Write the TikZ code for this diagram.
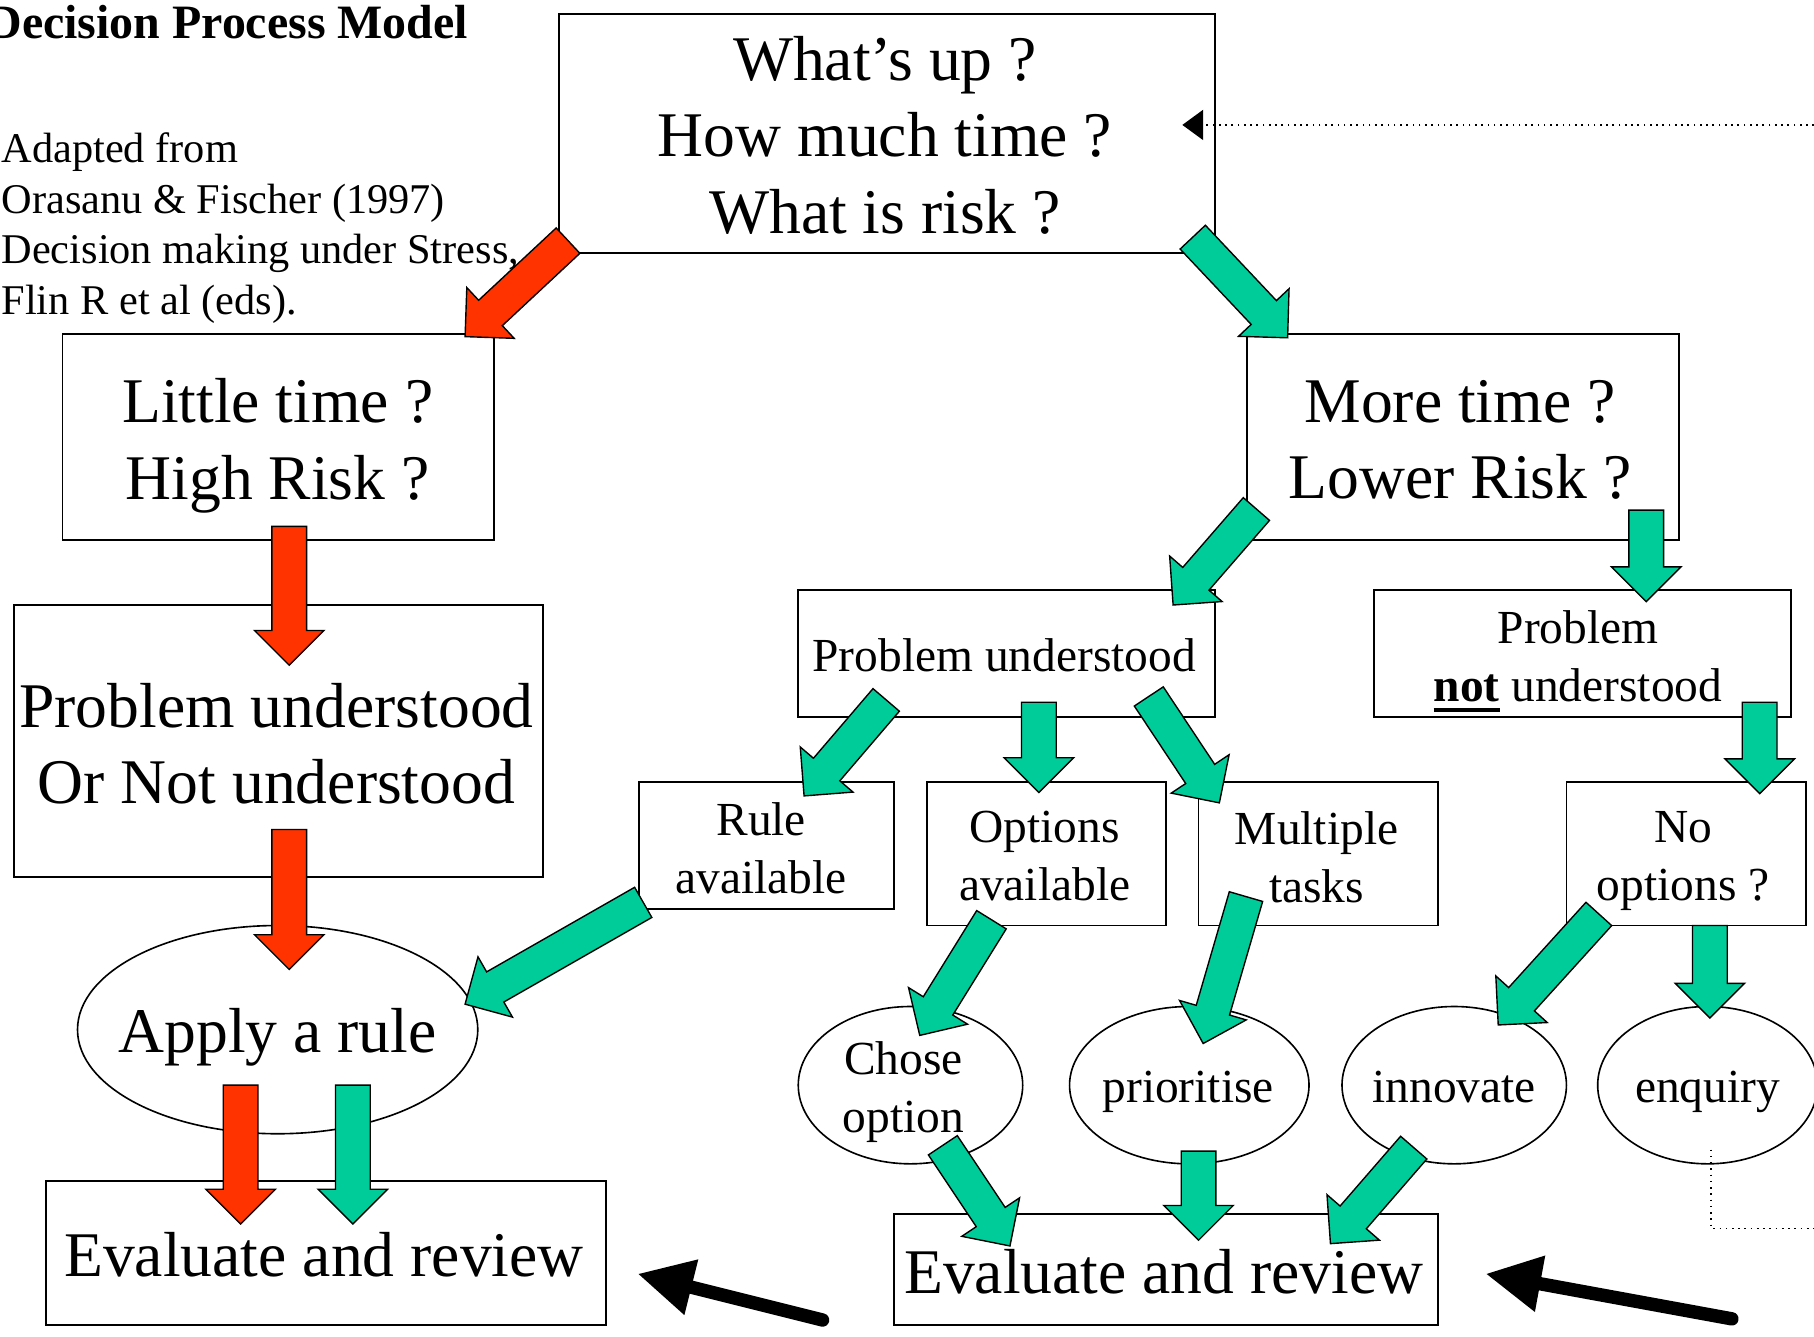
\documentclass[tikz,border=0pt]{standalone}
\usepackage{fontspec}
\setmainfont{Liberation Serif}
\usetikzlibrary{shapes.geometric,arrows.meta}
\definecolor{redarr}{HTML}{FF3300}
\definecolor{grnarr}{HTML}{00CC99}
\newcommand{\fbig}{\fontsize{27.5}{33}\selectfont}
\newcommand{\fmid}{\fontsize{20.5}{25}\selectfont}
\newcommand{\fcite}{\fontsize{18.3}{22}\selectfont}
\newcommand{\ftitle}{\fontsize{20.7}{25}\selectfont\bfseries}
\newcommand{\thickul}[1]{\setbox0\hbox{#1}\rlap{\rule[-4.5pt]{\wd0}{1.7pt}}\box0}
\newcommand{\blockarr}[5]{%
  \pgfmathsetmacro{\baang}{atan2(#2-#4,#3-#1)}%
  \pgfmathsetmacro{\balen}{veclen(#3-#1,#4-#2)}%
  \pgfmathsetmacro{\bahb}{\balen-30}%
  \filldraw[fill=#5,draw=black,line width=0.6pt,line join=miter,shift={(#1,#2)},rotate=\baang]
    (0,-15) -- (\bahb,-15) -- (\bahb,-30) -- (\balen,0) -- (\bahb,30) -- (\bahb,15) -- (0,15) -- cycle;}
\begin{document}
\begin{tikzpicture}[x=0.5pt,y=-0.5pt,
  box/.style={draw=black,line width=0.8pt,rectangle,inner sep=0pt},
  oval/.style={draw=black,line width=0.7pt,ellipse,inner sep=0pt},
  txt/.style={inner sep=0pt,align=center},
  blk/.style={line width=5.8pt,line cap=round,-{Triangle[length=24pt,width=23pt]}},
  fb/.style={dotted,line width=0.7pt}]
\useasboundingbox (0,0) rectangle (1568,1155);

% titles
\node[txt,font=\ftitle,anchor=base east] (title) at (405,33) {Decision Process Model};
\node[inner sep=0pt,align=left,font=\fcite,anchor=north west] (cite) at (1,114)
  {Adapted from\\Orasanu \& Fischer (1997)\\Decision making under Stress,\\Flin R et al (eds).};

% boxes
\node[box,minimum width=283.5pt,minimum height=103.5pt] (top) at (766.5,115.5) {};
\node[txt,font=\fbig,anchor=north] (topT) at (765,31) {What’s up ?\\How much time ?\\What is risk ?};

\node[box,minimum width=186.5pt,minimum height=89pt] (little) at (240.5,378) {};
\node[txt,font=\fbig,anchor=north] (littleT) at (240,327) {Little time ?\\High Risk ?};

\node[box,minimum width=186.5pt,minimum height=89pt] (more) at (1264.5,378) {};
\node[txt,font=\fbig,anchor=north] (moreT) at (1262,328.4) {More time ?\\Lower Risk ?};

\node[box,minimum width=228.5pt,minimum height=117.5pt] (probL) at (240.5,640.5) {};
\node[txt,font=\fbig,anchor=north] (probLT) at (239,590.4) {Problem understood\\Or Not understood};

\node[oval,minimum width=173pt,minimum height=90pt] (apply) at (240,890) {};
\node[txt,font=\fbig,anchor=base] (applyT) at (240,910) {Apply a rule};

\node[box,minimum width=242pt,minimum height=62pt] (evalL) at (282,1083) {};
\node[txt,font=\fbig,anchor=base] (evalLT) at (280,1103) {Evaluate and review};

\node[box,minimum width=180pt,minimum height=55pt] (probM) at (870,565) {};
\node[txt,font=\fmid,anchor=base] (probMT) at (868,580.5) {Problem understood};

\node[box,minimum width=180pt,minimum height=55pt] (probN) at (1368,565) {};
\node[txt,font=\fmid,anchor=north] (probNT) at (1364,527.5) {Problem\\\thickul{\textbf{not}}\ understood};

\node[box,minimum width=110.5pt,minimum height=55pt] (rule) at (662.5,731) {};
\node[txt,font=\fmid,anchor=north] (ruleT) at (658,693.5) {Rule\\available};

\node[box,minimum width=103.5pt,minimum height=62pt] (opts) at (904.5,738) {};
\node[txt,font=\fmid,anchor=north] (optsT) at (903,701) {Options\\available};

\node[box,minimum width=103.5pt,minimum height=62pt] (multi) at (1139.5,738) {};
\node[txt,font=\fmid,anchor=north] (multiT) at (1138,701) {Multiple\\tasks};

\node[box,minimum width=103.5pt,minimum height=62pt] (noopt) at (1457.5,738) {};
\node[txt,font=\fmid,anchor=north] (nooptT) at (1455,701) {No\\options ?};

\node[oval,minimum width=97pt,minimum height=68pt] (chose) at (787,938) {};
\node[txt,font=\fmid,anchor=north] (choseT) at (781,900) {Chose\\option};

\node[oval,minimum width=103.5pt,minimum height=68pt] (prio) at (1028,938) {};
\node[txt,font=\fmid,anchor=base] (prioT) at (1027,953) {prioritise};

\node[oval,minimum width=97pt,minimum height=68pt] (innov) at (1257,938) {};
\node[txt,font=\fmid,anchor=base] (innovT) at (1257,953) {innovate};

\node[oval,minimum width=95pt,minimum height=68pt] (enq) at (1476,938) {};
\node[txt,font=\fmid,anchor=base] (enqT) at (1476,953) {enquiry};

\node[box,minimum width=235pt,minimum height=48pt] (evalR) at (1008,1097) {};
\node[txt,font=\fbig,anchor=base] (evalRT) at (1006,1118) {Evaluate and review};

% feedback dotted lines
\coordinate (fbR) at (1568,108);
\coordinate (fbTip) at (1022,108);
\draw[fb,-{Triangle[length=9pt,width=13pt]}] (fbR) -- (fbTip);
\coordinate (fb2) at (1568,1062);
\draw[fb] (enq.south) ++(3,-13) |- (fb2);

% red block arrows
\blockarr{491}{208}{402}{291}{redarr}
\blockarr{250}{455}{250}{575}{redarr}
\blockarr{250}{717}{250}{838}{redarr}
\blockarr{208}{938}{208}{1058}{redarr}
% green block arrows
\blockarr{1031}{205}{1113}{292}{grnarr}
\blockarr{1086}{440}{1014}{523}{grnarr}
\blockarr{1423}{441}{1423}{520}{grnarr}
\blockarr{305}{938}{305}{1058}{grnarr}
\blockarr{556}{780}{402}{868}{grnarr}
\blockarr{766}{605}{695}{688}{grnarr}
\blockarr{898}{607}{898}{685}{grnarr}
\blockarr{993}{602}{1054}{694}{grnarr}
\blockarr{1521}{607}{1521}{686}{grnarr}
\blockarr{857}{795}{795}{895}{grnarr}
\blockarr{1077}{775}{1040}{902}{grnarr}
\blockarr{1382}{790}{1295}{886}{grnarr}
\blockarr{1478}{800}{1478}{880}{grnarr}
\blockarr{815}{990}{873}{1077}{grnarr}
\blockarr{1036}{995}{1036}{1072}{grnarr}
\blockarr{1222}{992}{1150}{1075}{grnarr}

% black arrows
\coordinate (k1s) at (711,1141);
\coordinate (k1e) at (551,1101);
\coordinate (k2s) at (1497,1140);
\coordinate (k2e) at (1284,1101);
\draw[blk] (k1s) -- (k1e);
\draw[blk] (k2s) -- (k2e);
\end{tikzpicture}
\end{document}
